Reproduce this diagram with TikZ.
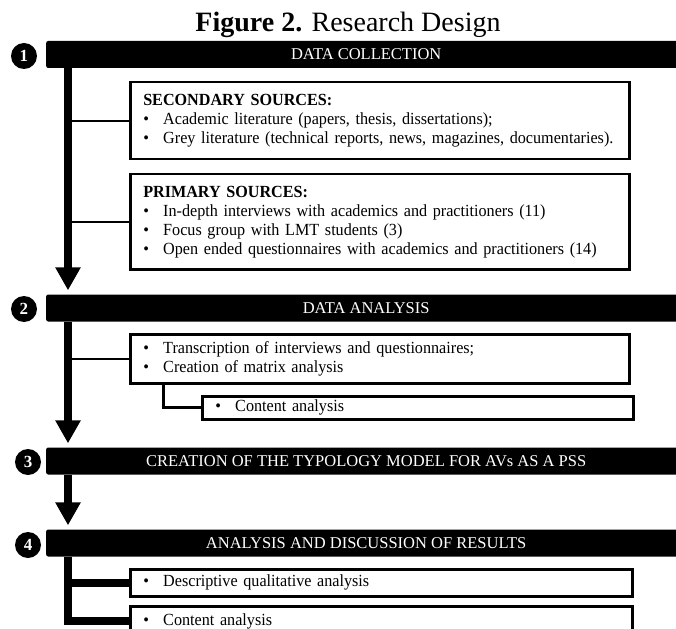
\documentclass[tikz,border=0pt]{standalone}
\usepackage{fontspec}
\setmainfont{Liberation Serif}
\newfontfamily\boxfont{Liberation Serif}[FakeStretch=0.95]
\usepackage{tikz}
\usetikzlibrary{arrows.meta}

\newcommand{\itm}[1]{\mbox{\makebox[20pt][l]{\textbullet}#1}}

\begin{document}
\begin{tikzpicture}[
        x=1pt, y=-1pt,
        bar/.style={
            fill=black,
            text=white,
            rounded corners=2pt,
            minimum width=640pt,
            minimum height=27pt,
            anchor=west,
            font=\fontsize{16.5}{18}\selectfont
        },
        num/.style={
            circle,
            fill=black,
            text=white,
            minimum size=26pt,
            inner sep=0pt,
            font=\fontsize{17}{18}\selectfont\bfseries
        },
        itembox/.style={
            draw,
            line width=2.5pt,
            anchor=north west,
            align=left,
            inner xsep=13pt,
            inner ysep=0pt,
            font=\boxfont\fontsize{17}{19}\selectfont
        },
        trunk/.style={line width=8pt},
        arrow/.style={line width=8pt, -{Triangle[width=24pt,length=23pt]}},
        branch/.style={line width=2pt}
    ]

    \useasboundingbox (0,0) rectangle (676,628);
    \clip (0,0) rectangle (676,628);

    \coordinate (spine) at (68,0);

    \node[anchor=base, font=\fontsize{28}{30}\selectfont] (title) at (348,32) {\textbf{Figure 2.} Research Design};

    \node[num] (n1) at (24,56) {1};
    \node[bar] (bar1) at (46,54.5) {DATA COLLECTION};

    \node[itembox, text width=473pt, minimum height=77pt] (sec) at (129,81)
        {\textbf{SECONDARY SOURCES:}\\
         \itm{Academic literature (papers, thesis, dissertations);}\\
         \itm{Grey literature (technical reports, news, magazines, documentaries).}};

    \node[itembox, text width=473pt, minimum height=95pt] (prim) at (129,173)
        {\textbf{PRIMARY SOURCES:}\\
         \itm{In-depth interviews with academics and practitioners (11)}\\
         \itm{Focus group with LMT students (3)}\\
         \itm{Open ended questionnaires with academics and practitioners (14)}};

    \node[num] (n2) at (24,309) {2};
    \node[bar] (bar2) at (46,308) {DATA ANALYSIS};

    \node[itembox, text width=473pt, minimum height=49pt] (trans) at (129,333)
        {\itm{Transcription of interviews and questionnaires;}\\
         \itm{Creation of matrix analysis}};

    \node[itembox, text width=405pt, minimum height=23pt] (sub) at (201,395)
        {\itm{Content analysis}};

    \node[num] (n3) at (28,462) {3};
    \node[bar] (bar3) at (46,461) {CREATION OF THE TYPOLOGY MODEL FOR AVs AS A PSS};

    \node[num] (n4) at (28,545) {4};
    \node[bar] (bar4) at (46,543) {ANALYSIS AND DISCUSSION OF RESULTS};

    \node[itembox, text width=476pt, minimum height=27pt] (desc) at (129,568)
        {\itm{Descriptive qualitative analysis}};

    \node[itembox, text width=476pt, minimum height=30pt] (cont) at (129,605)
        {\itm{Content analysis}};

    \draw[arrow] (bar1.south -| spine) -- ([yshift=4pt]bar2.north -| spine);
    \draw[branch] (sec.west -| spine) -- (sec.west);
    \draw[branch] (prim.west -| spine) -- (prim.west);

    \draw[arrow] (bar2.south -| spine) -- ([yshift=4pt]bar3.north -| spine);
    \draw[branch] (trans.west -| spine) -- (trans.west);
    \draw[line width=3pt] ([xshift=34pt]trans.south west) |- (sub.west);

    \draw[arrow] (bar3.south -| spine) -- ([yshift=4pt]bar4.north -| spine);

    \draw[trunk] (bar4.south -| spine) |- (cont.west);
    \draw[trunk] (desc.west -| spine) -- (desc.west);

    \end{tikzpicture}
\end{document}
